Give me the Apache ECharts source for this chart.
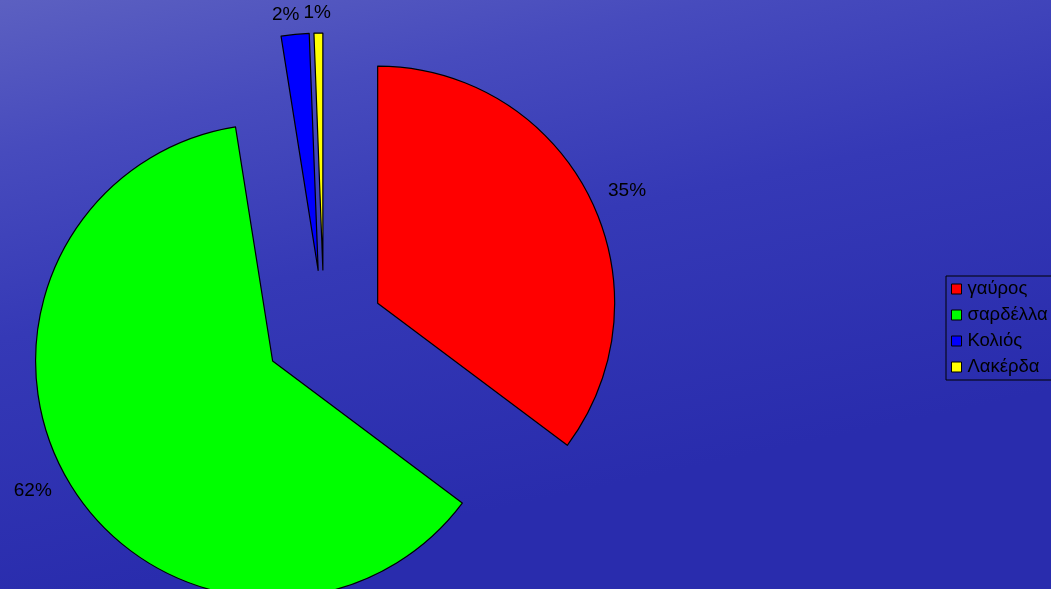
<!DOCTYPE html>
<html>
<head>
<meta charset="utf-8">
<script src="https://cdn.jsdelivr.net/npm/echarts@6/dist/echarts.min.js"></script>
<style>html,body{margin:0;padding:0;}#c{width:1051px;height:589px;}</style>
</head>
<body>
<div id="c"></div>
<script>
var categories = ['γαύρος', 'σαρδέλλα', 'Κολιός', 'Λακέρδα'];
var values = [35.2, 62.2, 1.9, 0.6];
var colors = ['#ff0000', '#00ff00', '#0000ff', '#ffff00'];

var chart = echarts.init(document.getElementById('c'));
var data = categories.map(function (name, i) {
  return { name: name, value: values[i], selected: true, itemStyle: { color: colors[i] } };
});
chart.setOption({
  backgroundColor: {
    type: 'linear', x: 0, y: 0, x2: 0.12, y2: 1,
    colorStops: [
      { offset: 0, color: '#5c60c1' },
      { offset: 0.25, color: '#474bbd' },
      { offset: 0.55, color: '#3539b6' },
      { offset: 1, color: '#292cad' }
    ]
  },
  animation: false,
  legend: {
    orient: 'vertical',
    left: 946,
    top: 276,
    data: categories,
    borderColor: '#000',
    borderWidth: 1,
    padding: [3, 20, 3, 5],
    itemWidth: 10,
    itemHeight: 10,
    itemGap: 6,
    icon: 'rect',
    selectedMode: false,
    itemStyle: { borderColor: '#000', borderWidth: 1 },
    textStyle: { fontFamily: 'Liberation Sans', fontSize: 18.5, color: '#000', lineHeight: 20, padding: [0, 0, 0, 1] }
  },
  series: [{
    type: 'pie',
    center: [324, 330],
    radius: 237,
    startAngle: 90,
    clockwise: true,
    selectedMode: 'multiple',
    selectedOffset: 60,
    avoidLabelOverlap: false,
    percentPrecision: 0,
    label: {
      show: true,
      position: 'outside',
      formatter: '{d}%',
      fontFamily: 'Liberation Sans',
      fontSize: 19,
      color: '#000'
    },
    labelLine: { show: false, length: 15, length2: 0 },
    labelLayout: function (p) {
      if (p.dataIndex === 2) { return { dx: p.labelRect.width / 2 - 3, dy: -5 }; }
      if (p.dataIndex === 3) { return { dx: p.labelRect.width / 2 + 4, dy: -5 }; }
    },
    itemStyle: { borderColor: '#000', borderWidth: 1.2 },
    emphasis: { disabled: true },
    data: data
  }]
});
</script>
</body>
</html>
